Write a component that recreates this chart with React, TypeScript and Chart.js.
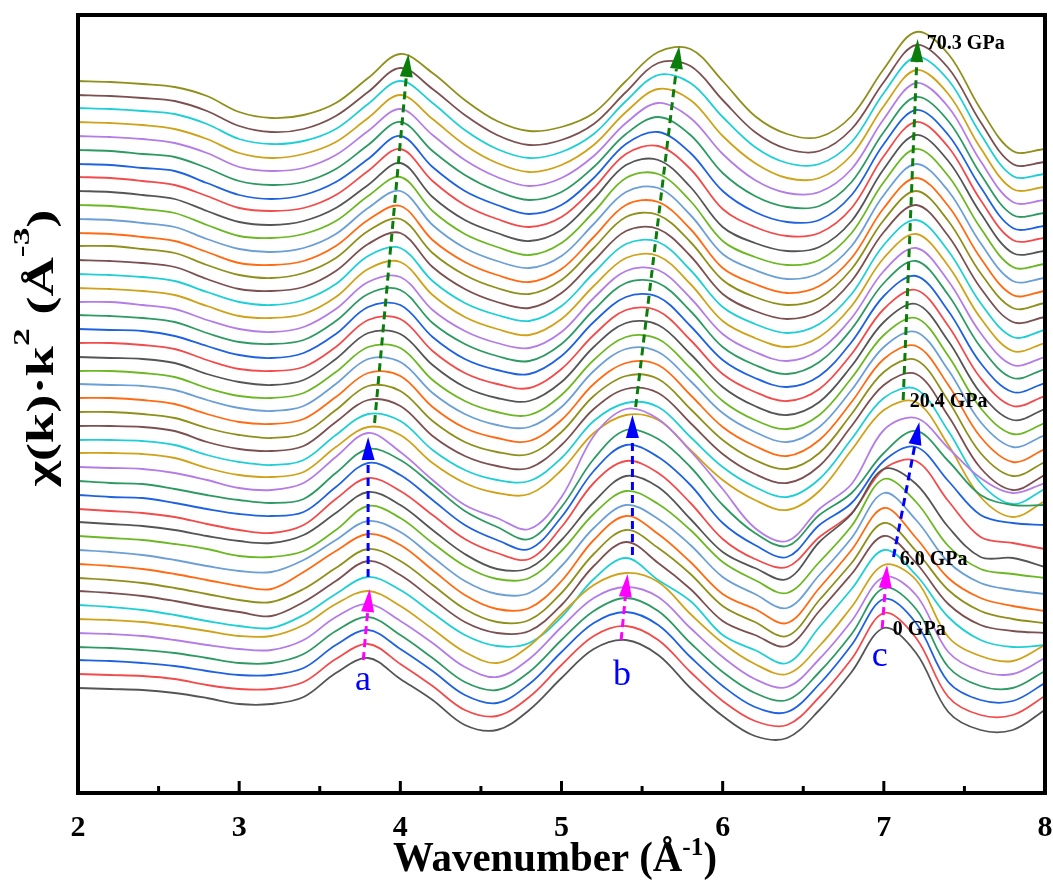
import React, { useEffect, useRef } from 'react';
import { Chart, registerables } from 'chart.js';
Chart.register(...registerables);

// Wavenumber grid (Å^-1)
const kGrid = [2.0, 2.2, 2.4, 2.6, 2.8, 3.0, 3.2, 3.4, 3.6, 3.8, 4.0, 4.2, 4.4, 4.6, 4.8, 5.0, 5.2, 5.4, 5.6, 5.8, 6.0, 6.2, 6.4, 6.6, 6.8, 7.0, 7.2, 7.4, 7.6, 7.8, 8.0];
const xTicks = [2, 3, 4, 5, 6, 7, 8];

// vertical stacking offset of each spectrum (arbitrary units)
const offsets = [105, 119, 133, 146, 160, 174, 188, 202, 215, 229, 243, 257, 271, 284, 298, 312, 326, 340, 353, 367, 381, 395, 409, 422, 436, 450, 464, 478, 491, 505, 519, 533, 547, 560, 574, 588, 602, 616, 629, 643, 657, 671, 685, 698, 712];

// chi(k)*k^2 spectra, bottom (0 GPa) to top (70.3 GPa)
const s00 = [0,-1,-2,-5,-10,-16,-16,-9,15,30,9,-12,-37,-42,-22,10,39,48,33,0,-28,-48,-50,-22,16,60,35,-24,-42,-42,-22];
const s01 = [0,-1,-2,-5,-11,-15,-15,-8,15,30,10,-12,-36,-42,-23,9,38,48,34,2,-27,-47,-51,-23,15,61,36,-23,-41,-41,-22];
const s02 = [0,-1,-3,-6,-11,-15,-15,-8,15,30,11,-11,-35,-43,-24,8,37,48,35,3,-26,-47,-52,-24,15,61,37,-22,-40,-41,-23];
const s03 = [0,-1,-3,-6,-11,-16,-16,-7,16,30,12,-11,-35,-43,-25,7,36,49,36,4,-25,-46,-53,-25,13,59,38,-20,-39,-41,-24];
const s04 = [0,-1,-3,-7,-12,-16,-17,-7,16,29,12,-10,-34,-44,-26,6,35,46,36,5,-24,-46,-54,-26,12,56,38,-19,-38,-41,-25];
const s05 = [0,-1,-3,-7,-12,-17,-17,-6,15,28,13,-10,-33,-44,-27,5,34,46,37,5,-24,-45,-55,-27,12,54,39,-18,-37,-42,-26];
const s06 = [0,-2,-5,-10,-16,-21,-23,-10,11,28,15,-8,-30,-41,-38,-12,26,47,25,4,-30,-45,-58,-22,16,55,30,-12,-35,-42,-40];
const s07 = [0,-2,-5,-10,-16,-21,-25,-11,10,30,16,-8,-31,-42,-40,-14,25,49,28,2,-30,-44,-55,-20,17,55,28,-13,-34,-40,-42];
const s08 = [0,-2,-5,-10,-16,-22,-24,-11,10,29,17,-7,-31,-44,-42,-15,24,48,30,4,-28,-44,-58,-22,15,55,27,-12,-33,-41,-45];
const s09 = [0,-2,-5,-10,-16,-22,-25,-8,13,30,19,-6,-31,-45,-44,-17,24,48,30,2,-30,-45,-59,-24,14,56,26,-14,-34,-42,-47];
const s10 = [0,-2,-5,-10,-16,-21,-22,-10,10,29,18,-7,-31,-44,-43,-16,22,45,31,5,-27,-44,-58,-25,12,57,30,-12,-33,-40,-44];
const s11 = [0,-2,-4,-8,-13,-20,-21,-15,6,30,18,-7,-30,-43,-42,-15,22,45,32,6,-26,-44,-57,-26,10,57,34,-10,-33,-38,-42];
const s12 = [0,-2,-4,-8,-14,-19,-21,-13,9,30,17,-8,-32,-47,-46,-18,20,46,35,3,-30,-46,-57,-20,8,53,38,-5,-35,-36,-45];
const s13 = [0,-2,-4,-8,-15,-21,-24,-16,10,31,18,-6,-30,-44,-50,-18,26,48,36,6,-30,-50,-58,-28,-4,40,48,8,-28,-34,-40];
const s14 = [0,-2,-3,-8,-14,-19,-21,-17,8,32,20,-5,-30,-45,-54,-22,24,50,38,10,-28,-50,-62,-30,-8,34,48,14,-20,-28,-30];
const s15 = [0,-2,-3,-8,-14,-19,-22,-18,8,32,21,-4,-30,-46,-58,-26,22,51,42,14,-24,-52,-65,-34,-12,28,50,20,-14,-24,-24];
const s16 = [0,-1,-2,-6,-13,-21,-23,-16,10,34,15,-13,-38,-51,-62,-30,31,58,48,16,-22,-61,-74,-42,-17,37,49,19,-11,-26,-16];
const s17 = [0,0,-1,-5,-15,-22,-24,-19,6,26,18,-10,-30,-40,-41,-17,20,38,33,3,-27,-47,-57,-38,3,43,51,8,-44,-64,-48];
const s18 = [0,0,-1,-5,-15,-22,-25,-20,5,26,19,-10,-30,-40,-41,-18,19,37,33,3,-27,-47,-57,-39,1,42,51,9,-43,-64,-49];
const s19 = [0,0,-1,-5,-16,-23,-25,-20,4,26,20,-10,-30,-40,-42,-19,17,37,33,3,-28,-48,-57,-40,0,41,52,10,-42,-64,-49];
const s20 = [0,0,-2,-6,-16,-23,-26,-21,2,26,21,-9,-30,-40,-42,-20,16,36,33,3,-28,-48,-57,-41,-2,40,52,11,-41,-64,-50];
const s21 = [0,0,-2,-6,-16,-24,-26,-21,1,25,22,-9,-30,-40,-43,-22,14,35,33,3,-29,-48,-58,-42,-4,39,52,13,-39,-64,-51];
const s22 = [0,-1,-2,-6,-16,-24,-27,-22,0,25,22,-9,-30,-41,-43,-23,13,35,32,3,-29,-48,-58,-43,-6,37,52,14,-38,-63,-51];
const s23 = [0,0,-2,-6,-17,-25,-27,-22,-1,24,23,-9,-30,-41,-44,-24,11,34,32,3,-30,-49,-58,-44,-7,36,53,15,-37,-63,-52];
const s24 = [0,-1,-2,-6,-17,-25,-28,-23,-2,24,23,-8,-30,-41,-44,-25,10,34,32,3,-30,-49,-58,-45,-9,35,53,16,-36,-63,-52];
const s25 = [0,0,-2,-6,-17,-26,-28,-24,-4,23,24,-8,-30,-41,-45,-26,8,33,32,3,-31,-49,-58,-46,-11,34,53,17,-35,-63,-53];
const s26 = [0,-1,-2,-7,-17,-26,-29,-24,-5,22,24,-8,-30,-41,-45,-27,7,32,32,3,-31,-49,-58,-47,-13,33,53,18,-34,-63,-54];
const s27 = [0,-1,-3,-7,-18,-27,-29,-25,-6,21,25,-8,-29,-41,-46,-29,5,32,32,4,-32,-50,-59,-47,-14,32,54,20,-32,-63,-54];
const s28 = [0,0,-3,-7,-18,-27,-30,-25,-7,20,25,-8,-29,-41,-46,-30,4,31,32,4,-32,-50,-59,-48,-16,31,54,21,-31,-63,-55];
const s29 = [0,-1,-3,-7,-18,-28,-30,-26,-9,19,26,-7,-29,-41,-47,-31,2,30,32,4,-33,-50,-59,-49,-18,30,54,22,-30,-63,-55];
const s30 = [0,-1,-3,-7,-18,-28,-31,-26,-10,18,26,-7,-29,-41,-47,-32,1,30,32,4,-33,-50,-59,-50,-20,29,54,23,-29,-63,-56];
const s31 = [0,-1,-3,-7,-19,-29,-31,-27,-11,16,27,-7,-29,-42,-48,-33,-1,29,31,4,-34,-51,-59,-51,-21,28,55,24,-28,-62,-57];
const s32 = [0,0,-3,-7,-19,-29,-32,-27,-12,15,27,-7,-29,-42,-48,-34,-2,29,31,4,-34,-51,-59,-52,-23,26,55,25,-27,-62,-57];
const s33 = [0,-1,-4,-8,-19,-30,-32,-28,-13,13,27,-7,-29,-42,-49,-36,-4,28,31,4,-35,-51,-60,-53,-25,25,55,27,-25,-62,-58];
const s34 = [0,-1,-4,-8,-20,-30,-33,-29,-15,11,28,-6,-29,-42,-49,-37,-5,27,31,4,-35,-51,-60,-54,-27,24,55,28,-24,-62,-59];
const s35 = [0,-1,-4,-8,-20,-31,-33,-29,-16,9,28,-6,-29,-42,-50,-38,-7,27,31,4,-36,-52,-60,-55,-28,23,56,29,-23,-62,-59];
const s36 = [0,-1,-4,-8,-20,-31,-34,-30,-17,6,28,-6,-29,-42,-50,-39,-8,26,31,4,-36,-52,-60,-56,-30,22,56,30,-22,-62,-60];
const s37 = [0,-1,-4,-8,-19,-31,-34,-31,-18,6,28,-4,-28,-42,-50,-40,-11,23,31,8,-32,-50,-59,-56,-31,21,55,30,-23,-63,-61];
const s38 = [0,-1,-4,-7,-19,-31,-35,-31,-18,5,28,-3,-27,-41,-50,-41,-14,20,32,11,-27,-48,-58,-56,-31,20,54,29,-23,-64,-62];
const s39 = [0,-1,-4,-7,-18,-31,-35,-32,-19,5,28,-1,-25,-41,-50,-42,-17,16,33,15,-23,-46,-57,-56,-32,18,53,29,-24,-65,-63];
const s40 = [0,-1,-3,-7,-17,-31,-35,-32,-19,5,27,1,-24,-41,-50,-42,-20,13,33,18,-18,-44,-57,-56,-33,17,53,29,-25,-66,-64];
const s41 = [0,-1,-3,-7,-17,-31,-36,-32,-20,4,27,3,-23,-41,-50,-43,-23,10,33,22,-14,-41,-56,-56,-33,16,52,28,-26,-67,-65];
const s42 = [0,-1,-3,-6,-16,-31,-36,-33,-21,4,27,5,-22,-41,-50,-44,-26,7,33,25,-9,-39,-55,-56,-34,15,51,28,-26,-68,-66];
const s43 = [0,-1,-3,-6,-16,-31,-37,-34,-21,3,27,6,-20,-40,-50,-45,-29,3,32,29,-5,-37,-54,-56,-34,13,50,27,-27,-69,-67];
const s44 = [0,-1,-3,-6,-15,-31,-37,-34,-22,3,27,8,-19,-40,-50,-46,-32,0,29,32,0,-35,-53,-56,-35,12,49,27,-28,-70,-68];

const spectra = [s00,s01,s02,s03,s04,s05,s06,s07,s08,s09,s10,s11,s12,s13,s14,s15,s16,s17,s18,s19,s20,s21,s22,s23,s24,s25,s26,s27,s28,s29,s30,s31,s32,s33,s34,s35,s36,s37,s38,s39,s40,s41,s42,s43,s44];

const palette = ['#555555', '#f24b4b', '#1f62e0', '#2e9a63', '#b47de6', '#d0a21a', '#1fcfd6', '#7c5050', '#8f8f1c', '#ff6a12', '#6b9fd6', '#6cb824'];

// annotations
const pressureTexts = ['0 GPa', '6.0 GPa', '20.4 GPa', '70.3 GPa'];
const pressureAnchors = [[7.056, 158], [7.099, 228], [7.161, 386], [7.267, 744]];
const peakTexts = ['a', 'b', 'c'];
const peakAnchors = [[3.768, 103], [5.375, 108], [6.975, 127]];
const arrowColors = ['#ff00ff', '#0000ff', '#0a7d0a'];
// [x1, y1, x2, y2, colorIndex]
const arrowSegments = [
  [3.77, 133, 3.81, 204, 0],
  [3.80, 216, 3.80, 356, 1],
  [3.84, 370, 4.05, 739, 2],
  [5.37, 153, 5.41, 219, 0],
  [5.44, 238, 5.44, 378, 1],
  [5.46, 386, 5.73, 747, 2],
  [6.99, 165, 7.02, 228, 0],
  [7.06, 236, 7.22, 371, 1],
  [7.12, 393, 7.21, 754, 2],
];

const SERIF = '"Liberation Serif", "Times New Roman", serif';

type Part = { t: string; sup?: boolean };

function drawParts(ctx: CanvasRenderingContext2D, parts: Part[], mainFont: string, supFont: string, raise: number, targetW: number) {
  const widths = parts.map((p) => {
    ctx.font = p.sup ? supFont : mainFont;
    return ctx.measureText(p.t).width;
  });
  const total = widths.reduce((a, b) => a + b, 0);
  const sx = targetW / total;
  ctx.save();
  ctx.scale(sx, 1);
  let x = -total / 2;
  ctx.textAlign = 'left';
  ctx.textBaseline = 'alphabetic';
  parts.forEach((p, i) => {
    ctx.font = p.sup ? supFont : mainFont;
    ctx.fillText(p.t, x, p.sup ? -raise : 0);
    x += widths[i];
  });
  ctx.restore();
}

function drawArrow(ctx: CanvasRenderingContext2D, x1: number, y1: number, x2: number, y2: number, color: string) {
  const ang = Math.atan2(y2 - y1, x2 - x1);
  const headLen = 23;
  const headW = 6.5;
  const bx = x2 - headLen * Math.cos(ang);
  const by = y2 - headLen * Math.sin(ang);
  ctx.save();
  ctx.strokeStyle = color;
  ctx.lineWidth = 3;
  ctx.setLineDash([8, 5]);
  ctx.beginPath();
  ctx.moveTo(x1, y1);
  ctx.lineTo(bx, by);
  ctx.stroke();
  ctx.setLineDash([]);
  ctx.fillStyle = color;
  ctx.beginPath();
  ctx.moveTo(x2, y2);
  ctx.lineTo(bx + headW * Math.sin(ang), by - headW * Math.cos(ang));
  ctx.lineTo(bx - headW * Math.sin(ang), by + headW * Math.cos(ang));
  ctx.closePath();
  ctx.fill();
  ctx.restore();
}

const decorPlugin = {
  id: 'decor',
  beforeDraw(chart: any) {
    const ctx = chart.ctx;
    ctx.save();
    ctx.fillStyle = '#ffffff';
    ctx.fillRect(0, 0, chart.width, chart.height);
    ctx.restore();
  },
  afterDraw(chart: any) {
    const ctx: CanvasRenderingContext2D = chart.ctx;
    const { left, right, top, bottom } = chart.chartArea;
    const xs = chart.scales.x;
    const ys = chart.scales.y;
    ctx.save();
    // arrows
    arrowSegments.forEach((a) => {
      drawArrow(ctx, xs.getPixelForValue(a[0]), ys.getPixelForValue(a[1]), xs.getPixelForValue(a[2]), ys.getPixelForValue(a[3]), arrowColors[a[4]]);
    });
    // pressure labels
    ctx.fillStyle = '#000';
    ctx.font = `bold 20px ${SERIF}`;
    ctx.textAlign = 'left';
    ctx.textBaseline = 'alphabetic';
    pressureTexts.forEach((t, i) => {
      ctx.fillText(t, xs.getPixelForValue(pressureAnchors[i][0]), ys.getPixelForValue(pressureAnchors[i][1]));
    });
    // peak letters
    ctx.fillStyle = '#0000ff';
    ctx.font = `36px ${SERIF}`;
    ctx.textAlign = 'center';
    peakTexts.forEach((t, i) => {
      ctx.fillText(t, xs.getPixelForValue(peakAnchors[i][0]), ys.getPixelForValue(peakAnchors[i][1]));
    });
    // frame
    ctx.strokeStyle = '#000';
    ctx.lineWidth = 4;
    ctx.strokeRect(left, top, right - left, bottom - top);
    // ticks (inward)
    ctx.lineWidth = 3;
    for (let v = 2.5; v < 8; v += 0.5) {
      const px = xs.getPixelForValue(v);
      const len = Number.isInteger(v) ? 12 : 7;
      ctx.beginPath();
      ctx.moveTo(px, bottom);
      ctx.lineTo(px, bottom - len);
      ctx.stroke();
    }
    // tick labels
    ctx.fillStyle = '#000';
    ctx.font = `bold 30px ${SERIF}`;
    ctx.textAlign = 'center';
    ctx.textBaseline = 'alphabetic';
    xTicks.forEach((v) => {
      ctx.fillText(String(v), xs.getPixelForValue(v), 836);
    });
    // x title
    ctx.save();
    ctx.translate(555, 871);
    drawParts(ctx, [{ t: 'Wavenumber (Å' }, { t: '-1', sup: true }, { t: ')' }], `bold 42px ${SERIF}`, `bold 26px ${SERIF}`, 16, 324);
    ctx.restore();
    // y title
    ctx.save();
    ctx.translate(53, 348);
    ctx.rotate(-Math.PI / 2);
    drawParts(ctx, [{ t: 'χ(k)·k' }, { t: '2', sup: true }, { t: ' (Å' }, { t: '-3', sup: true }, { t: ')' }], `bold 37px ${SERIF}`, `bold 24px ${SERIF}`, 24, 277);
    ctx.restore();
    ctx.restore();
  },
};

export default function App() {
  const ref = useRef<HTMLCanvasElement>(null);
  useEffect(() => {
    document.body.style.margin = '0';
    const datasets = spectra.map((s, i) => ({
      label: `p${i}`,
      data: kGrid.map((k, j) => ({ x: k, y: offsets[i] + s[j] })),
      borderColor: palette[i % palette.length],
      borderWidth: 1.8,
      pointRadius: 0,
      tension: 0.35,
      fill: false,
    }));
    const chart = new Chart(ref.current as HTMLCanvasElement, {
      type: 'line',
      data: { datasets },
      options: {
        responsive: false,
        animation: false,
        devicePixelRatio: 1,
        layout: { padding: { left: 78, right: 8, top: 15, bottom: 88 } },
        scales: {
          x: { type: 'linear', min: 2, max: 8, display: false },
          y: { type: 'linear', min: 0, max: 778, display: false },
        },
        plugins: { legend: { display: false }, tooltip: { enabled: false } },
        events: [],
      },
      plugins: [decorPlugin],
    } as any);
    return () => chart.destroy();
  }, []);
  return (
    <div style={{ width: 1053, height: 881, background: '#fff' }}>
      <canvas ref={ref} width={1053} height={881} style={{ display: 'block' }} />
    </div>
  );
}
